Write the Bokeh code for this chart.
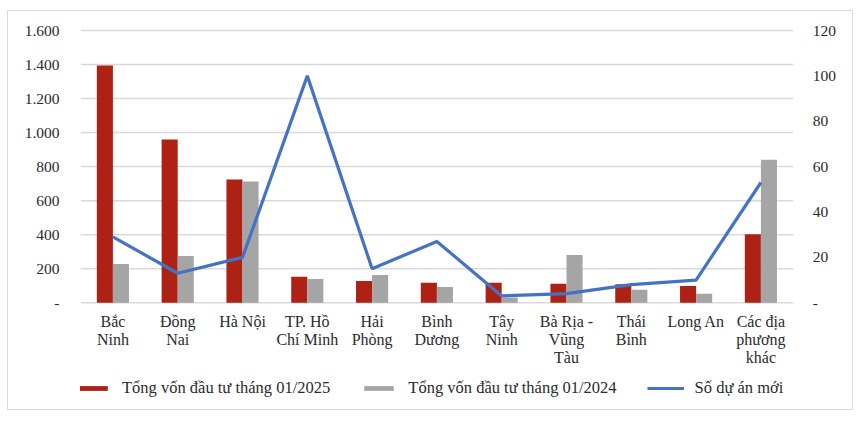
from bokeh.plotting import figure
from bokeh.models import (Range1d, Legend, LegendItem, FixedTicker, ColumnDataSource)
from bokeh.core.properties import value
from bokeh.transform import dodge
from bokeh.embed import file_html
from bokeh.resources import INLINE

categories = ["Bắc Ninh", "Đồng Nai", "Hà Nội", "TP. Hồ Chí Minh", "Hải Phòng",
              "Bình Dương", "Tây Ninh", "Bà Rịa - Vũng Tàu", "Thái Bình", "Long An",
              "Các địa phương khác"]
category_labels = ["Bắc\nNinh", "Đồng\nNai", "Hà Nội", "TP. Hồ\nChí Minh", "Hải\nPhòng",
                   "Bình\nDương", "Tây\nNinh", "Bà Rịa -\nVũng\nTàu", "Thái\nBình",
                   "Long An", "Các địa\nphương\nkhác"]
von_2025 = [1395, 960, 725, 152, 128, 117, 117, 111, 108, 99, 403]
von_2024 = [228, 274, 712, 140, 163, 93, 30, 280, 76, 52, 841]
so_du_an = [29, 13, 20, 100, 15, 27, 3, 4, 8, 10, 53]

left_ticks = [0, 200, 400, 600, 800, 1000, 1200, 1400, 1600]
left_tick_labels = ["-", "200", "400", "600", "800", "1.000", "1.200", "1.400", "1.600"]
right_ticks = [0, 20, 40, 60, 80, 100, 120]
right_tick_labels = ["-", "20", "40", "60", "80", "100", "120"]

names = ["Tổng vốn đầu tư tháng 01/2025", "Tổng vốn đầu tư tháng 01/2024", "Số dự án mới"]

FONT = "Liberation Serif"
RED = "#ae2216"
GREY = "#a5a5a5"
BLUE = "#4472c4"
GRID = "#d9d9d9"
TXT = "#2b2b2b"

LEFT_MAX = 1600
RIGHT_MAX = 120
below = 610.0            # frame extends below zero for category labels and legend
above = 100.0            # and a little above the top tick so labels are not clipped
n = len(categories)
pos = list(range(n))     # category positions on a numeric x scale
x_end = -0.5 + 774 / 64.8  # frame continues to the right to host the right tick labels

src = ColumnDataSource(dict(x=pos, cat=categories, v25=von_2025, v24=von_2024, n=so_du_an))
lab = ColumnDataSource(dict(x=pos, text=category_labels, y=[-60.0] * n))
grid = ColumnDataSource(dict(x0=[-0.5] * len(left_ticks), x1=[n - 0.5] * len(left_ticks),
                             y=left_ticks))
rlab = ColumnDataSource(dict(x=[n - 0.5 + 0.3] * len(right_ticks), y=right_ticks,
                             text=right_tick_labels))

k = RIGHT_MAX / LEFT_MAX
p = figure(width=846, height=400, x_range=Range1d(-0.5, x_end),
           y_range=Range1d(-below, LEFT_MAX + above), output_backend="svg",
           toolbar_location=None,
           min_border_left=72, min_border_right=0, min_border_top=2, min_border_bottom=5)
p.styles = {"margin-left": "7px", "margin-top": "10px", "border": "1px solid #d9d9d9"}
p.outline_line_color = None
p.background_fill_color = "white"
p.border_fill_color = "white"

p.extra_y_ranges = {"right": Range1d(-below * k, (LEFT_MAX + above) * k)}

# gridlines across the plot area only
p.segment(x0="x0", x1="x1", y0="y", y1="y", source=grid, line_color=GRID, line_width=1.5)

r1 = p.vbar(x=dodge("x", -0.124), top="v25", width=0.248, source=src,
            fill_color=RED, line_color=None)
r2 = p.vbar(x=dodge("x", 0.124), top="v24", width=0.248, source=src,
            fill_color=GREY, line_color=None)
r3 = p.line(x="x", y="n", source=src, y_range_name="right", line_color=BLUE, line_width=3.2)

p.text(x="x", y="y", text="text", source=lab, text_align="center", text_baseline="top",
       text_font=value(FONT), text_font_size="16px", text_color=TXT, text_line_height=1.05)

p.text(x="x", y="y", text="text", source=rlab, y_range_name="right", text_align="left",
       text_baseline="middle", text_font=value(FONT), text_font_size="15.5px",
       text_color=TXT)

# left axis
p.yaxis.ticker = FixedTicker(ticks=left_ticks)
p.yaxis.major_label_overrides = {t: l for t, l in zip(left_ticks, left_tick_labels)}
p.yaxis.axis_line_color = None
p.yaxis.major_tick_line_color = None
p.yaxis.minor_tick_line_color = None
p.yaxis.major_label_text_font = FONT
p.yaxis.major_label_text_font_size = "15.5px"
p.yaxis.major_label_text_color = TXT
p.yaxis.major_label_standoff = 15

p.xaxis.visible = False
p.xgrid.grid_line_color = None
p.ygrid.grid_line_color = None

legend = Legend(items=[LegendItem(label=names[0], renderers=[r1]),
                       LegendItem(label=names[1], renderers=[r2]),
                       LegendItem(label=names[2], renderers=[r3])],
                orientation="horizontal", location=(-6, 8), margin=0, padding=5,
                glyph_width=37, glyph_height=6, spacing=30, label_standoff=11,
                label_text_font=FONT, label_text_font_size="16.5px",
                label_text_color=TXT, border_line_color=None,
                background_fill_alpha=0)
p.add_layout(legend, "center")

open("out.html", "w").write(file_html(p, INLINE))
